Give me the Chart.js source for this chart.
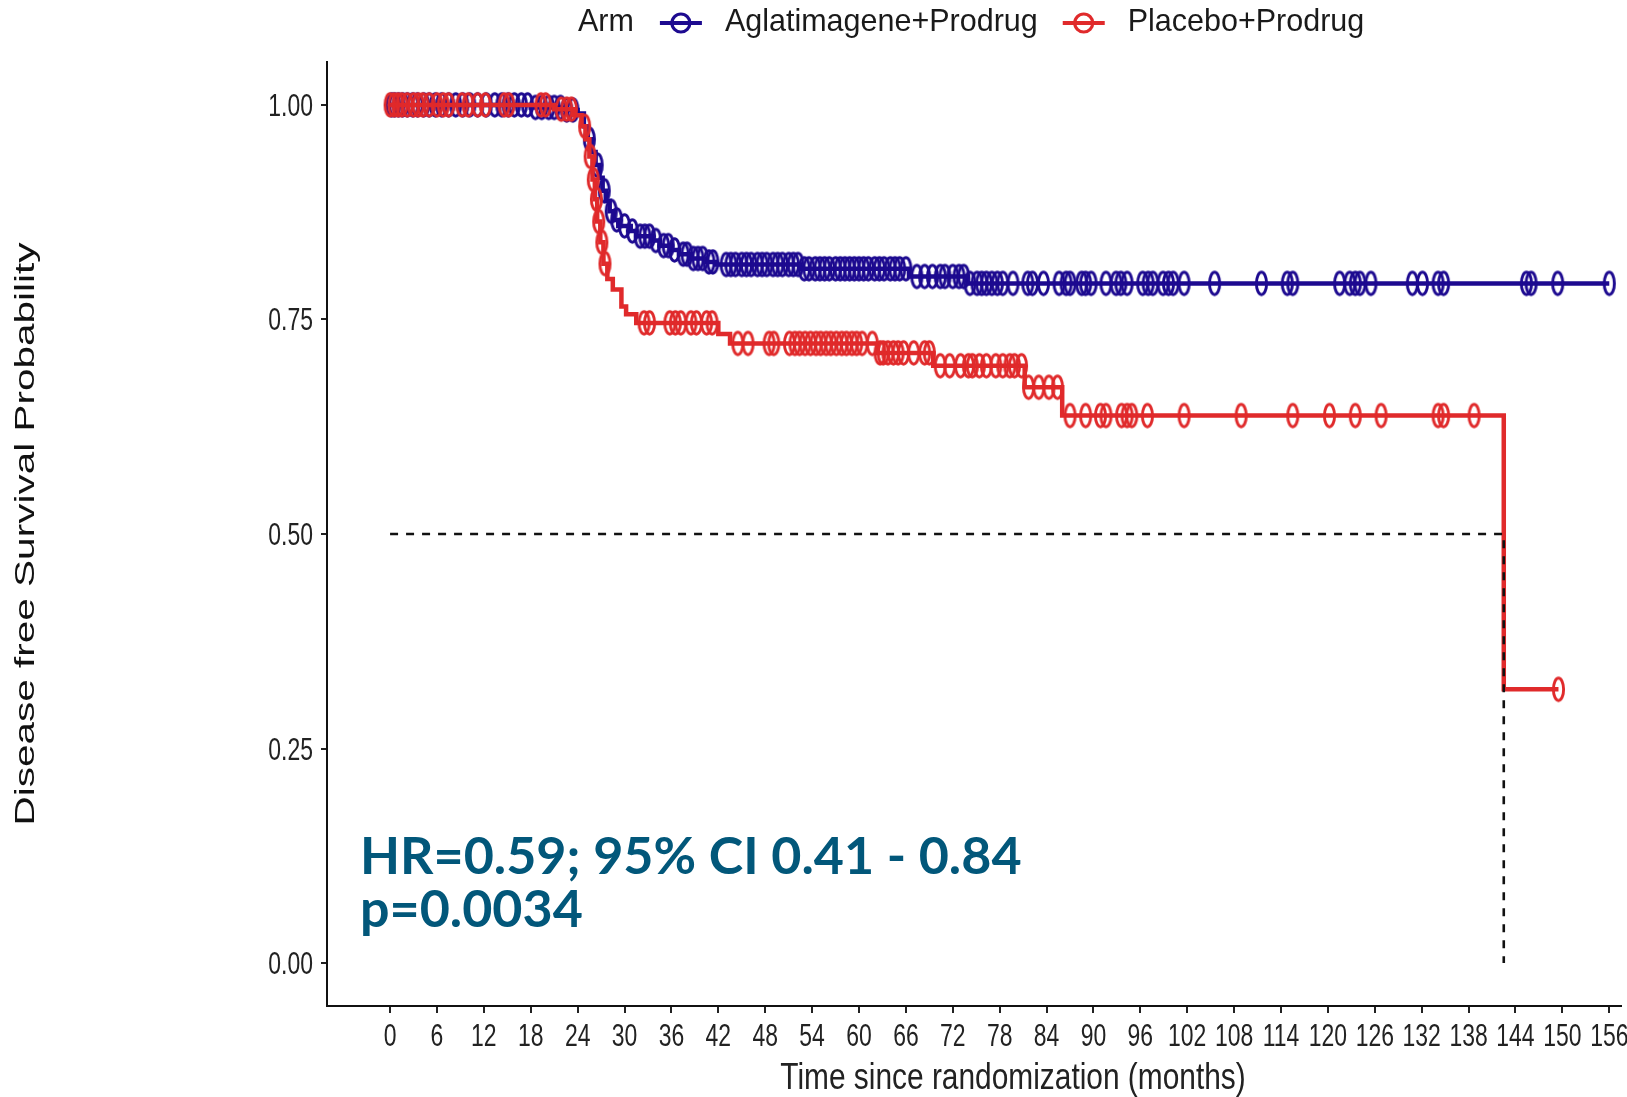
<!DOCTYPE html>
<html>
<head>
<meta charset="utf-8">
<script src="https://cdn.jsdelivr.net/npm/chart.js@4.4.1/dist/chart.umd.min.js"></script>
<style>
  html, body { margin: 0; padding: 0; background: #fff; }
</style>
</head>
<body>
<canvas id="km-chart" width="1627" height="1097"></canvas>
<script>
const xTicks = [0, 6, 12, 18, 24, 30, 36, 42, 48, 54, 60, 66, 72, 78, 84, 90, 96, 102, 108, 114, 120, 126, 132, 138, 144, 150, 156];
const yTicks = [0, 0.25, 0.5, 0.75, 1];

const armLabels = ['Aglatimagene+Prodrug', 'Placebo+Prodrug'];
const armColors = ['#1d0a90', '#e02a2b'];

// Kaplan-Meier steps: month of event, survival after it
const aglaTimes = [0, 18, 22, 24.0, 24.8, 25.3, 25.8, 26.3, 26.8, 27.2, 27.6, 28.1, 28.6, 29.2, 30.8, 31.5, 33.5, 34.5, 36.0, 37.0, 38.5, 40.5, 41.7, 52.5, 66.4, 73.9, 156];
const aglaSurv = [1, 0.997, 0.994, 0.99, 0.975, 0.96, 0.945, 0.93, 0.915, 0.9, 0.888, 0.876, 0.866, 0.859, 0.853, 0.847, 0.842, 0.836, 0.831, 0.826, 0.821, 0.817, 0.814, 0.809, 0.8, 0.792, 0.792];
const aglaCensor = [0.2, 0.6, 1.1, 1.6, 2.2, 2.9, 3.5, 4.3, 5.0, 5.8, 6.6, 7.5, 8.4, 9.3, 10.2, 11.2, 12.3, 13.4, 14.3, 15.1, 15.9, 16.8, 17.6, 18.6, 19.4, 20.3, 21.0, 21.8, 22.6, 23.4, 25.5, 26.5, 27.4, 28.3, 29.0, 30.0, 31.0, 32.0, 32.6, 33.2, 34.0, 35.0, 35.6, 36.4, 37.5, 38.0, 38.8, 39.4, 40.0, 40.8, 41.3, 43.0, 43.6, 44.2, 45.0, 45.6, 46.2, 47.0, 47.6, 48.2, 49.0, 49.6, 50.2, 51.0, 51.6, 52.2, 53.0, 53.6, 54.4, 55.0, 55.6, 56.2, 57.0, 57.6, 58.2, 58.8, 59.4, 60.0, 60.6, 61.2, 62.0, 62.6, 63.2, 64.0, 64.6, 65.2, 66.0, 67.4, 68.4, 69.4, 70.4, 71.0, 72.0, 72.8, 73.4, 74.2, 75.1, 75.7, 76.3, 77.0, 77.7, 78.4, 79.7, 81.6, 82.2, 83.6, 85.6, 86.5, 87.0, 88.5, 89.0, 89.7, 91.6, 92.9, 93.5, 94.3, 96.3, 97.0, 97.6, 98.9, 99.6, 100.2, 101.6, 105.5, 111.5, 114.8, 115.5, 121.5, 122.8, 123.5, 124.1, 125.5, 130.8, 132.1, 134.1, 134.8, 145.4, 146.0, 149.4, 156];

const placeboTimes = [0, 21, 23.5, 24.5, 25.0, 25.5, 25.9, 26.2, 26.5, 26.9, 27.3, 27.8, 28.5, 29.6, 30.2, 31.5, 42.0, 43.5, 62.4, 69.5, 81.2, 86.0, 142.5, 149.5];
const placeboSurv = [1, 0.995, 0.988, 0.975, 0.96, 0.94, 0.913, 0.89, 0.864, 0.84, 0.815, 0.797, 0.785, 0.765, 0.756, 0.746, 0.733, 0.722, 0.711, 0.696, 0.671, 0.638, 0.319, 0.319];
const placeboCensor = [0.0, 0.5, 1.0, 1.5, 2.2, 3.0, 3.6, 4.2, 5.0, 6.0, 6.8, 7.5, 9.2, 10.0, 11.2, 12.2, 14.6, 15.2, 19.3, 19.9, 21.9, 22.6, 23.2, 24.9, 25.6, 26.0, 26.4, 26.7, 27.1, 27.5, 32.5, 33.2, 35.8, 36.5, 37.2, 38.5, 39.2, 40.5, 41.2, 44.5, 45.8, 48.5, 49.1, 51.1, 51.8, 52.4, 53.1, 53.8, 54.5, 55.1, 55.8, 56.4, 57.1, 57.8, 58.4, 59.1, 59.7, 60.4, 61.7, 62.7, 63.1, 63.7, 64.4, 65.0, 65.7, 67.0, 68.4, 69.0, 70.4, 71.6, 73.0, 74.0, 74.5, 75.4, 76.3, 77.5, 78.4, 79.3, 79.9, 80.8, 81.7, 83.0, 84.3, 85.4, 87.0, 89.0, 90.9, 91.6, 93.6, 94.3, 94.9, 96.9, 101.6, 108.9, 115.5, 120.2, 123.5, 126.8, 134.1, 134.8, 138.7, 149.5];

// median survival guide
const medianX = [0, 142.5, 142.5];
const medianY = [0.5, 0.5, 0];

const statLines = ['HR=0.59; 95% CI 0.41 - 0.84', 'p=0.0034'];
const xTitle = 'Time since randomization (months)';
const yTitle = 'Disease free Survival Probability';

const sansFont = '"Liberation Sans", Arial, sans-serif';

function survAt(times, surv, t) {
    let s = surv[0];
    for (let i = 0; i < times.length; i++) {
        if (times[i] <= t) s = surv[i];
    }
    return s;
}

function censorMark(color) {
    const c = document.createElement('canvas');
    c.width = 15;
    c.height = 28;
    const g = c.getContext('2d');
    g.strokeStyle = color;
    g.lineWidth = 2.9;
    g.beginPath();
    g.ellipse(7.5, 14, 5.1, 11.2, 0, 0, Math.PI * 2);
    g.stroke();
    return c;
}

// squeezed text, the source figure uses a condensed look
function squeezed(ctx, text, x, y, sx, align) {
    ctx.save();
    ctx.translate(x, y);
    ctx.scale(sx, 1);
    ctx.textAlign = align;
    ctx.fillText(text, 0, 0);
    ctx.restore();
}

const decorPlugin = {
    id: 'kmDecor',
    afterDraw(chart) {
        const ctx = chart.ctx;
        const xs = chart.scales.x;
        const ys = chart.scales.y;
        ctx.save();

        // tick labels
        ctx.font = '31px ' + sansFont;
        ctx.fillStyle = '#222';
        ctx.textBaseline = 'alphabetic';
        xTicks.forEach(v => squeezed(ctx, String(v), xs.getPixelForValue(v), xs.top + 40, 0.74, 'center'));
        yTicks.forEach(v => squeezed(ctx, v.toFixed(2), ys.right - 14, ys.getPixelForValue(v) + 11, 0.74, 'right'));

        // x title
        ctx.font = '36px ' + sansFont;
        squeezed(ctx, xTitle, 1013, 1089, 0.83, 'center');

        // y title
        ctx.save();
        ctx.translate(27, (chart.chartArea.top + chart.chartArea.bottom) / 2);
        ctx.rotate(-Math.PI / 2);
        ctx.scale(1.5, 1);
        ctx.font = '27px ' + sansFont;
        ctx.textAlign = 'center';
        ctx.textBaseline = 'middle';
        ctx.fillStyle = '#111';
        ctx.fillText(yTitle, 0, 0);
        ctx.restore();

        // legend
        ctx.font = '30.5px ' + sansFont;
        ctx.fillStyle = '#1a1a1a';
        ctx.textBaseline = 'middle';
        ctx.textAlign = 'left';
        const ly = 23;
        let x = 578;
        ctx.fillText('Arm', x, ly);
        x += ctx.measureText('Arm').width + 26;
        armLabels.forEach((label, i) => {
            ctx.strokeStyle = armColors[i];
            ctx.lineWidth = 4;
            ctx.beginPath();
            ctx.moveTo(x, ly);
            ctx.lineTo(x + 42, ly);
            ctx.stroke();
            ctx.lineWidth = 3.2;
            ctx.beginPath();
            ctx.arc(x + 21, ly, 9, 0, Math.PI * 2);
            ctx.stroke();
            x += 42 + 23;
            ctx.fillStyle = '#1a1a1a';
            ctx.fillText(label, x, ly);
            x += ctx.measureText(label).width + 25;
        });

        // HR annotation
        ctx.font = 'bold 52px Lato, "Open Sans", sans-serif';
        ctx.fillStyle = '#02577a';
        ctx.textBaseline = 'alphabetic';
        ctx.fillText(statLines[0], 360, 874);
        ctx.fillText(statLines[1], 360, 927);
        ctx.restore();
    }
};

const toPoints = (xs, ys) => xs.map((v, i) => ({x: v, y: ys[i]}));

const ctx = document.getElementById('km-chart').getContext('2d');
new Chart(ctx, {
    type: 'line',
    data: {
        datasets: [
            {
                label: 'median',
                data: toPoints(medianX, medianY),
                borderColor: '#111',
                borderWidth: 2.6,
                borderDash: [8, 8],
                pointRadius: 0,
                order: 0
            },
            {
                label: armLabels[1] + ' censored',
                data: placeboCensor.map(t => ({x: t, y: survAt(placeboTimes, placeboSurv, t)})),
                showLine: false,
                pointStyle: censorMark(armColors[1]),
                pointRadius: 5,
                order: 1
            },
            {
                label: armLabels[1],
                data: toPoints(placeboTimes, placeboSurv),
                borderColor: armColors[1],
                borderWidth: 4.5,
                stepped: true,
                pointRadius: 0,
                order: 2
            },
            {
                label: armLabels[0] + ' censored',
                data: aglaCensor.map(t => ({x: t, y: survAt(aglaTimes, aglaSurv, t)})),
                showLine: false,
                pointStyle: censorMark(armColors[0]),
                pointRadius: 5,
                order: 3
            },
            {
                label: armLabels[0],
                data: toPoints(aglaTimes, aglaSurv),
                borderColor: armColors[0],
                borderWidth: 4.5,
                stepped: true,
                pointRadius: 0,
                order: 4
            }
        ]
    },
    options: {
        responsive: false,
        animation: false,
        layout: { padding: { top: 62, left: 0, right: 0, bottom: 0 } },
        plugins: {
            legend: { display: false },
            tooltip: { enabled: false }
        },
        scales: {
            x: {
                type: 'linear',
                min: -8.07,
                max: 157.5,
                afterBuildTicks: (scale) => { scale.ticks = xTicks.map(v => ({value: v})); },
                afterFit: (scale) => { scale.height = 91; },
                grid: { drawOnChartArea: false, drawTicks: true, tickLength: 7, color: '#222', lineWidth: 2 },
                border: { display: true, color: '#111', width: 2 },
                ticks: { display: false }
            },
            y: {
                min: -0.05,
                max: 1.05,
                afterBuildTicks: (scale) => { scale.ticks = yTicks.map(v => ({value: v})); },
                afterFit: (scale) => { scale.width = 327; },
                grid: { drawOnChartArea: false, drawTicks: true, tickLength: 6, color: '#222', lineWidth: 2 },
                border: { display: true, color: '#111', width: 2 },
                ticks: { display: false }
            }
        }
    },
    plugins: [decorPlugin]
});
</script>
</body>
</html>
